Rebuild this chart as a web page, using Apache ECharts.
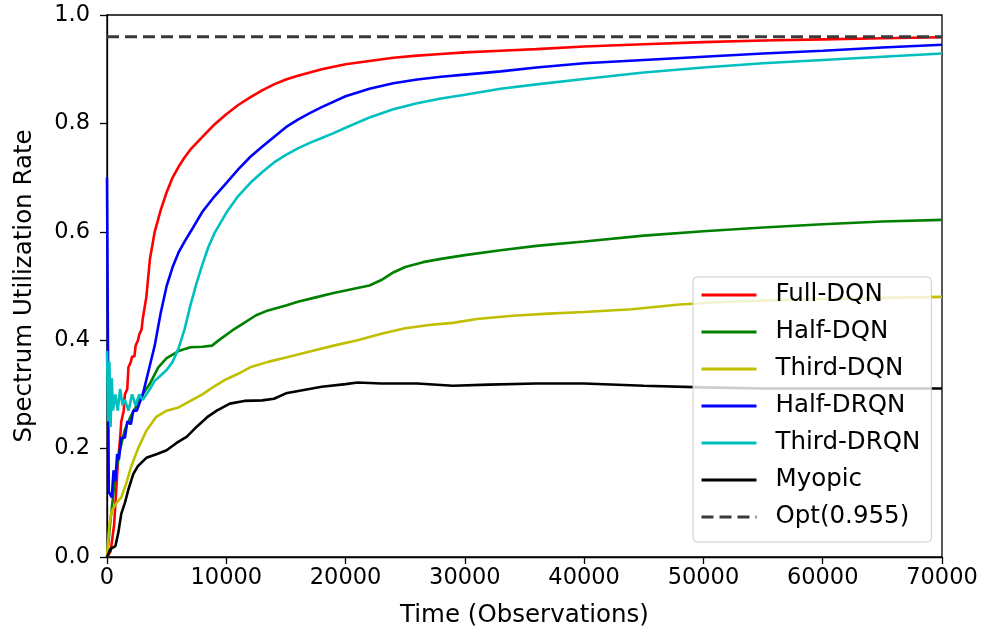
<!DOCTYPE html>
<html>
<head>
<meta charset="utf-8">
<title>Spectrum Utilization Rate</title>
<script src="https://cdn.jsdelivr.net/npm/echarts@6/dist/echarts.min.js"></script>
<style>
  html, body { margin: 0; padding: 0; background: #fff; }
  #chart { width: 983px; height: 641px; }
</style>
</head>
<body>
<div id="chart"></div>
<script>
// values, as [time, rate]
const fullDQN = [
  [0, 0.0], [300, 0.01], [600, 0.06], [900, 0.17], [1100, 0.22], [1200, 0.25], [1400, 0.27],
  [1500, 0.30], [1700, 0.31], [1800, 0.35], [2000, 0.36], [2100, 0.37], [2300, 0.37], [2400, 0.39],
  [2600, 0.40], [2700, 0.41], [2900, 0.42], [3000, 0.44], [3300, 0.48], [3600, 0.55], [4000, 0.60],
  [4500, 0.64], [5000, 0.673], [5500, 0.70], [6000, 0.72], [6500, 0.737], [7000, 0.752], [8000, 0.775],
  [9000, 0.798], [10000, 0.817], [11000, 0.834], [12000, 0.848], [13000, 0.861], [14000, 0.872],
  [15000, 0.881], [16000, 0.888], [18000, 0.900], [20000, 0.909], [22000, 0.915], [24000, 0.921],
  [26000, 0.925], [28000, 0.928], [30000, 0.931], [33000, 0.934], [36000, 0.937], [40000, 0.942],
  [45000, 0.946], [50000, 0.950], [55000, 0.953], [60000, 0.955], [65000, 0.957], [70000, 0.959]
];
const halfDQN = [
  [0, 0.0], [300, 0.07], [600, 0.13], [1000, 0.19], [1500, 0.235], [2000, 0.26], [2500, 0.28],
  [3000, 0.30], [3600, 0.32], [4300, 0.35], [5000, 0.367], [6000, 0.38], [7000, 0.387], [8000, 0.388],
  [8800, 0.390], [9500, 0.402], [10500, 0.418], [11500, 0.432], [12500, 0.446], [13500, 0.455],
  [15000, 0.464], [16000, 0.471], [17500, 0.479], [19000, 0.487], [20500, 0.494], [22000, 0.501],
  [23000, 0.511], [24000, 0.525], [25000, 0.535], [26500, 0.544], [28000, 0.550], [30000, 0.557],
  [33000, 0.566], [36000, 0.574], [40000, 0.582], [45000, 0.593], [50000, 0.601], [55000, 0.608],
  [60000, 0.614], [65000, 0.619], [70000, 0.622]
];
const thirdDQN = [
  [0, 0.0], [200, 0.06], [400, 0.085], [800, 0.10], [1200, 0.11], [1600, 0.135], [2000, 0.165],
  [2600, 0.20], [3300, 0.233], [4100, 0.258], [5000, 0.27], [6000, 0.276], [7000, 0.288], [8000, 0.30],
  [9000, 0.315], [10000, 0.328], [11000, 0.338], [12000, 0.35], [13500, 0.36], [15000, 0.368],
  [17000, 0.379], [19000, 0.39], [21000, 0.40], [23000, 0.412], [25000, 0.422], [27000, 0.428],
  [29000, 0.432], [31000, 0.439], [34000, 0.445], [37000, 0.449], [40000, 0.452], [44000, 0.457],
  [48000, 0.466], [52000, 0.471], [56000, 0.474], [60000, 0.476], [65000, 0.478], [70000, 0.480]
];
const halfDRQN = [
  [0, 0.70], [150, 0.12], [400, 0.11], [550, 0.16], [700, 0.14], [850, 0.19], [1000, 0.18],
  [1200, 0.22], [1500, 0.22], [1700, 0.25], [2000, 0.245], [2200, 0.27], [2500, 0.27], [3000, 0.30],
  [3500, 0.345], [4000, 0.39], [4500, 0.45], [5000, 0.50], [5500, 0.535], [6000, 0.562], [6500, 0.582],
  [7000, 0.60], [8000, 0.637], [9000, 0.665], [10000, 0.69], [11000, 0.715], [12000, 0.738],
  [13000, 0.757], [14000, 0.775], [15000, 0.793], [16000, 0.807], [17000, 0.819], [18000, 0.83],
  [20000, 0.85], [22000, 0.864], [24000, 0.874], [26000, 0.881], [28000, 0.886], [30000, 0.89],
  [33000, 0.896], [36000, 0.903], [40000, 0.911], [45000, 0.917], [50000, 0.923], [55000, 0.929],
  [60000, 0.934], [65000, 0.940], [70000, 0.945]
];
const thirdDRQN = [
  [0, 0.38], [100, 0.25], [200, 0.36], [300, 0.24], [400, 0.33], [500, 0.27], [700, 0.30],
  [900, 0.27], [1100, 0.31], [1300, 0.28], [1500, 0.29], [1800, 0.27], [2100, 0.30], [2400, 0.28],
  [2700, 0.30], [3000, 0.29], [3300, 0.30], [3600, 0.31], [4000, 0.325], [4500, 0.335], [5000, 0.345],
  [5500, 0.36], [6000, 0.385], [6500, 0.42], [7000, 0.465], [7500, 0.505], [8000, 0.54], [8500, 0.572],
  [9000, 0.597], [10000, 0.635], [11000, 0.666], [12000, 0.69], [13000, 0.71], [14000, 0.728],
  [15000, 0.742], [16000, 0.754], [17000, 0.764], [18000, 0.773], [19000, 0.782], [20000, 0.792],
  [22000, 0.811], [24000, 0.826], [26000, 0.837], [28000, 0.846], [30000, 0.853], [33000, 0.864],
  [36000, 0.872], [40000, 0.882], [45000, 0.894], [50000, 0.903], [55000, 0.911], [60000, 0.917],
  [65000, 0.923], [70000, 0.929]
];
const myopic = [
  [0, 0.0], [300, 0.015], [700, 0.02], [950, 0.045], [1200, 0.08], [1500, 0.10], [1800, 0.125],
  [2200, 0.153], [2600, 0.168], [3300, 0.183], [4200, 0.19], [5000, 0.197], [5800, 0.21],
  [6700, 0.222], [7500, 0.24], [8400, 0.258], [9200, 0.27], [10300, 0.283], [11500, 0.288],
  [13000, 0.289], [14000, 0.292], [15000, 0.302], [16500, 0.308], [18000, 0.314], [20000, 0.319],
  [21000, 0.322], [23000, 0.320], [26000, 0.320], [29000, 0.316], [32000, 0.318], [36000, 0.320],
  [40000, 0.320], [45000, 0.316], [50000, 0.313], [55000, 0.311], [60000, 0.311], [65000, 0.311],
  [70000, 0.311]
];
const optValue = 0.96;
const opt = [[0, optValue], [70000, optValue]];

const seriesNames = ['Full-DQN', 'Half-DQN', 'Third-DQN', 'Half-DRQN', 'Third-DRQN', 'Myopic', 'Opt(0.955)'];
const seriesData = [fullDQN, halfDQN, thirdDQN, halfDRQN, thirdDRQN, myopic, opt];
const seriesColors = ['#ff0000', '#008000', '#bfbf00', '#0000ff', '#00bfbf', '#000000', '#3a3a3a'];

const font = 'DejaVu Sans';
const chart = echarts.init(document.getElementById('chart'));

chart.setOption({
  animation: false,
  grid: {
    left: 107, right: 41, top: 15, bottom: 84,
    show: true, borderColor: '#000', borderWidth: 1.3
  },
  legend: {
    orient: 'vertical',
    left: 693, top: 277,
    padding: [5, 11, 12, 7],
    itemWidth: 55, itemHeight: 14, itemGap: 11,
    backgroundColor: 'rgba(255,255,255,0.8)',
    borderColor: '#cccccc', borderWidth: 1, borderRadius: 4,
    z: 10,
    itemStyle: { opacity: 0 },
    lineStyle: { width: 3 },
    textStyle: { fontFamily: font, fontSize: 24.5, color: '#000', lineHeight: 26, padding: [0, 0, 0, 14] },
    data: seriesNames
  },
  xAxis: {
    type: 'value', min: 0, max: 70000, interval: 10000,
    name: 'Time (Observations)', nameLocation: 'middle', nameGap: 46,
    nameTextStyle: { fontFamily: font, fontSize: 24.5, color: '#000' },
    axisLine: { lineStyle: { color: '#000', width: 1.3 } },
    axisTick: { show: true, length: 7, lineStyle: { color: '#000', width: 1.3 } },
    axisLabel: { fontFamily: font, fontSize: 22.5, color: '#000', margin: 10, formatter: v => String(v) },
    splitLine: { show: false }
  },
  yAxis: {
    type: 'value', min: 0, max: 1, interval: 0.2,
    name: 'Spectrum Utilization Rate', nameLocation: 'middle', nameGap: 70, nameRotate: 90,
    nameTextStyle: { fontFamily: font, fontSize: 24.5, color: '#000' },
    axisLine: { show: true, lineStyle: { color: '#000', width: 1.3 } },
    axisTick: { show: true, length: 7, lineStyle: { color: '#000', width: 1.3 } },
    axisLabel: { fontFamily: font, fontSize: 22.5, color: '#000', margin: 17, formatter: v => v.toFixed(1) },
    splitLine: { show: false }
  },
  series: seriesNames.map((name, i) => ({
    name: name,
    type: 'line',
    data: seriesData[i],
    symbol: 'none',
    showSymbol: false,
    clip: true,
    color: seriesColors[i],
    lineStyle: {
      color: seriesColors[i],
      width: i === 6 ? 3 : 2.6,
      type: i === 6 ? [12, 6] : 'solid'
    }
  }))
});
</script>
</body>
</html>
